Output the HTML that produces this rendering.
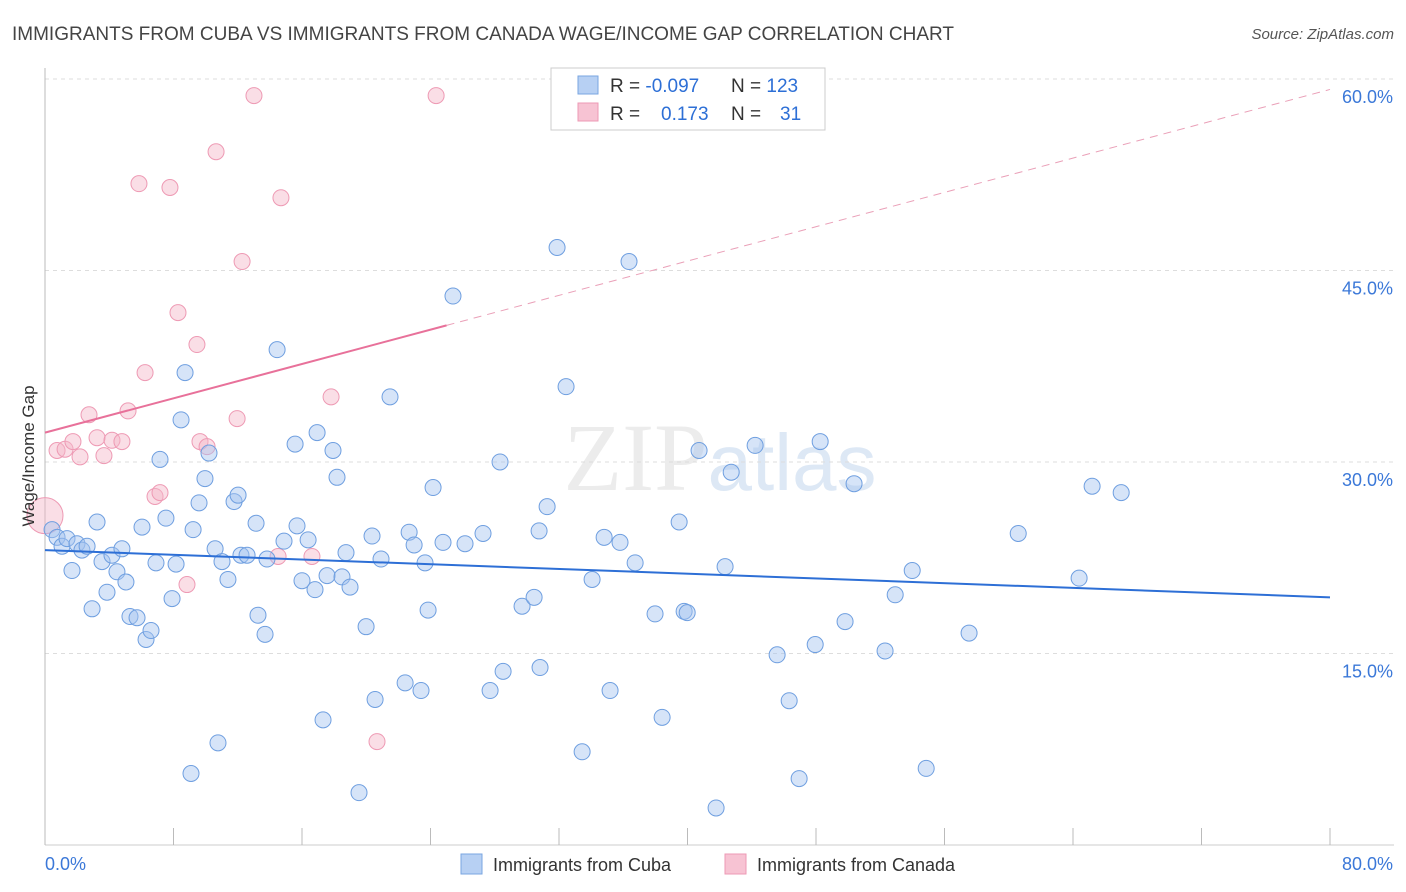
<!DOCTYPE html>
<html><head><meta charset="utf-8"><style>
body{margin:0;background:#fff;font-family:"Liberation Sans",sans-serif;}
svg{display:block}
</style></head><body>
<svg id="chart" width="1406" height="892">
<text x="12" y="40" font-size="19" fill="#444">IMMIGRANTS FROM CUBA VS IMMIGRANTS FROM CANADA WAGE/INCOME GAP CORRELATION CHART</text>
<text x="1394" y="39" font-size="15" fill="#555" font-style="italic" text-anchor="end">Source: ZipAtlas.com</text>
<text x="720" y="490" font-size="96" fill="#ececec" text-anchor="middle" font-family="Liberation Serif, serif">ZIP<tspan fill="#dde8f5" font-family="Liberation Sans, sans-serif" font-size="80">atlas</tspan></text>
<g id="grid"></g>
<g id="axes"></g>
<g id="marks"></g>
<text transform="translate(34,456) rotate(-90)" font-size="17" fill="#333" text-anchor="middle">Wage/Income Gap</text>
<g>
<rect x="551" y="68" width="274" height="62" fill="#fff" stroke="#ccc"/>
<rect x="578" y="76" width="20" height="18" fill="#b7d0f3" stroke="#7aa6e0"/>
<rect x="578" y="103" width="20" height="18" fill="#f7c3d3" stroke="#ee9ab4"/>
<text x="610" y="92" font-size="19" fill="#333">R = <tspan fill="#2d6fd6">-0.097</tspan></text>
<text x="731" y="92" font-size="19" fill="#333">N = <tspan fill="#2d6fd6">123</tspan></text>
<text x="610" y="120" font-size="19" fill="#333">R = </text><text x="661" y="120" font-size="19" fill="#2d6fd6">0.173</text>
<text x="731" y="120" font-size="19" fill="#333">N = </text><text x="780" y="120" font-size="19" fill="#2d6fd6">31</text>
</g>
<g>
<rect x="461" y="854" width="21" height="20" fill="#b7d0f3" stroke="#7aa6e0"/>
<text x="493" y="871" font-size="18" fill="#333">Immigrants from Cuba</text>
<rect x="725" y="854" width="21" height="20" fill="#f7c3d3" stroke="#ee9ab4"/>
<text x="757" y="871" font-size="18" fill="#333">Immigrants from Canada</text>
</g>
</svg>
<script>
const cubaX=[0.44,0.75,1.06,1.37,1.68,1.99,2.30,2.62,2.93,3.24,3.55,3.86,4.17,4.48,4.79,5.04,5.29,5.73,6.04,6.29,6.60,6.91,7.16,7.53,7.91,8.16,8.47,8.72,9.09,9.22,9.59,9.96,10.21,10.59,10.77,11.02,11.39,11.77,12.02,12.20,12.58,13.14,13.26,13.70,13.82,14.45,14.88,15.57,15.69,16.00,16.38,16.81,16.94,17.31,17.56,17.93,18.18,18.49,18.74,18.99,19.55,19.99,20.36,20.55,20.92,21.48,22.42,22.67,22.98,23.41,23.66,23.85,24.16,24.78,25.40,26.15,27.27,27.71,28.33,28.52,29.70,30.45,30.76,30.82,31.26,31.88,32.44,33.44,34.06,34.81,35.18,35.80,36.36,36.74,37.98,38.42,39.48,39.79,39.98,40.72,41.78,42.34,42.72,44.21,45.58,46.33,46.95,47.95,48.26,49.81,50.37,52.30,52.93,53.99,54.86,57.53,60.59,64.38,65.19,67.00];
const cubaY=[24.7,24.1,23.4,24.0,21.5,23.6,23.1,23.4,18.5,25.3,22.2,19.8,22.7,21.4,23.2,20.6,17.9,17.8,24.9,16.1,16.8,22.1,30.2,25.6,19.3,22.0,33.3,37.0,5.6,24.7,26.8,28.7,30.7,23.2,8.0,22.2,20.8,26.9,27.4,22.7,22.7,25.2,18.0,16.5,22.4,38.8,23.8,31.4,25.0,20.7,23.9,20.0,32.3,9.8,21.1,30.9,28.8,21.0,22.9,20.2,4.1,17.1,24.2,11.4,22.4,35.1,12.7,24.5,23.5,12.1,22.1,18.4,28.0,23.7,43.0,23.6,24.4,12.1,30.0,13.6,18.7,19.4,24.6,13.9,26.5,46.8,35.9,7.3,20.8,24.1,12.1,23.7,45.7,22.1,18.1,10.0,25.3,18.3,18.2,30.9,2.9,21.8,29.2,31.3,14.9,11.3,5.2,15.7,31.6,17.5,28.3,15.2,19.6,21.5,6.0,16.6,24.4,20.9,28.1,27.6];
const canX=[0,0.75,1.25,1.74,2.18,2.74,3.24,3.67,4.17,4.79,5.17,5.85,6.23,6.85,7.16,7.78,8.28,8.84,9.46,9.65,10.09,10.65,11.96,12.27,13.01,14.51,14.69,16.62,17.81,20.67,24.35];
const canY=[25.8,30.9,31.0,31.6,30.4,33.7,31.9,30.5,31.7,31.6,34.0,51.8,37.0,27.3,27.6,51.5,41.7,20.4,39.2,31.6,31.2,54.3,33.4,45.7,58.7,22.6,50.7,22.6,35.1,8.1,58.7];
const cubaTrend=[23.1,19.4];
const canTrend=[32.3,0.336];
const xTicks=[0,8,16,24,32,40,48,56,64,72,80];
const yTicks=[15,30,45,60];
const xs=v=>45+v*16.0625, ys=v=>845-v*12.767;
const NS="http://www.w3.org/2000/svg";
function mk(parent,tag,attrs){const e=document.createElementNS(NS,tag);for(const k in attrs)e.setAttribute(k,attrs[k]);document.getElementById(parent).appendChild(e);return e;}
yTicks.forEach(t=>{
 const l=mk('grid','line',{x1:45,x2:1394,y1:ys(t),y2:ys(t),stroke:'#ddd','stroke-dasharray':'4,4'});
 
 
 const tx=mk('grid','text',{x:1393,y:ys(t)+24,'font-size':18,fill:'#3b78d8','text-anchor':'end'});
 tx.textContent=t.toFixed(1)+'%';
 
 
});
let a=mk('axes','line',{x1:45,x2:45,y1:68,y2:845,stroke:'#bbb'});


a=mk('axes','line',{x1:45,x2:1394,y1:845,y2:845,stroke:'#ccc'});


xTicks.forEach(t=>{
 const l=mk('axes','line',{x1:xs(t),x2:xs(t),y1:828,y2:845,stroke:'#bbb'});
 
 
});
let t0=mk('axes','text',{x:45,y:870,'font-size':18,fill:'#3b78d8'});t0.textContent=xTicks[0].toFixed(1)+'%';


let t1=mk('axes','text',{x:1393,y:870,'font-size':18,fill:'#3b78d8','text-anchor':'end'});t1.textContent=xTicks[xTicks.length-1].toFixed(1)+'%';


canX.forEach((x,i)=>{
 const c=mk('marks','circle',{cx:xs(x),cy:ys(canY[i]),r:i===0?18:8,fill:'rgba(245,182,200,0.45)',stroke:'#ee9ab4','stroke-width':1});
 
 
});
cubaX.forEach((x,i)=>{
 const c=mk('marks','circle',{cx:xs(x),cy:ys(cubaY[i]),r:8,fill:'rgba(164,196,240,0.45)',stroke:'#6f9fe0','stroke-width':1});
 
 
});
let ln=mk('marks','line',{x1:xs(0),y1:ys(cubaTrend[0]),x2:xs(80),y2:ys(cubaTrend[1]),stroke:'#2d6fd6','stroke-width':2});


const cy=x=>canTrend[0]+canTrend[1]*x;
ln=mk('marks','line',{x1:xs(0),y1:ys(cy(0)),x2:xs(25),y2:ys(cy(25)),stroke:'#e8719a','stroke-width':2});


ln=mk('marks','line',{x1:xs(25),y1:ys(cy(25)),x2:xs(80),y2:ys(cy(80)),stroke:'#eaa0b8','stroke-width':1,'stroke-dasharray':'8,6'});


</script>
</body></html>
